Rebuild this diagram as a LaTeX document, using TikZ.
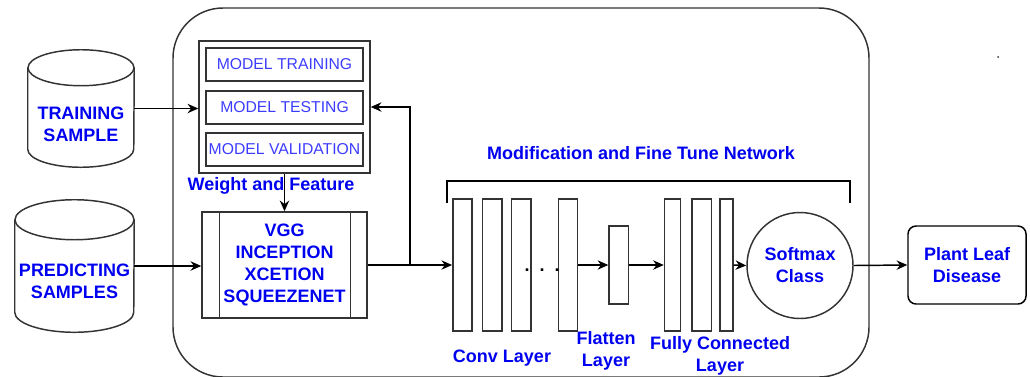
\documentclass[tikz,border=0pt]{standalone}
\usepackage{fontspec}
\setmainfont{Liberation Sans}
\usetikzlibrary{arrows.meta,positioning,calc}
\definecolor{txtblue}{HTML}{0000F0}
\definecolor{phaseblue}{HTML}{3C3CFF}
\definecolor{inkline}{HTML}{333333}

\begin{document}
\begin{tikzpicture}[
  x=0.75pt, y=-0.75pt,
  font=\fontsize{13.5}{16.5}\selectfont\bfseries,
  txt/.style    = {text=txtblue, align=center, inner sep=0pt},
  cyl/.style    = {draw=inkline, line width=1.1pt},
  phase/.style  = {draw=inkline, line width=1.1pt, minimum width=117.75pt, minimum height=24.75pt,
                   inner sep=0pt, text=phaseblue, font=\fontsize{11.8}{14}\selectfont},
  layer/.style  = {draw=inkline, line width=1.1pt, minimum width=14.5pt, minimum height=99pt, inner sep=0pt},
  flow/.style   = {-{Stealth[length=8pt, width=7pt]}, line width=1.1pt, draw=black},
]
\useasboundingbox (0,0) rectangle (1030,376);

% ---------- outer frame ---------------------------------------------------------------------
\draw[inkline, line width=1.1pt, rounded corners=37.5pt] (173,8) rectangle (869,377);
\fill[inkline] (998,57) circle (1);

% ---------- data stores ---------------------------------------------------------------------
\node[minimum width=79.5pt, minimum height=87.75pt, inner sep=0pt] (train) at (81,108.5) {};
\draw[cyl] ($(train.north west)+(0,18)$) -- ($(train.south west)+(0,-18)$)
      arc[start angle=180, end angle=360, x radius=39.75pt, y radius=13.5pt]
      -- ($(train.north east)+(0,18)$);
\draw[cyl] ($(train.north)+(0,18)$) ellipse[x radius=39.75pt, y radius=13.5pt];
\node[txt] (trainlbl) at (81,124) {TRAINING\\SAMPLE};

\node[minimum width=89.25pt, minimum height=99pt, inner sep=0pt] (predict) at (74.5,266) {};
\draw[cyl] ($(predict.north west)+(0,20)$) -- ($(predict.south west)+(0,-20)$)
      arc[start angle=180, end angle=360, x radius=44.625pt, y radius=15pt]
      -- ($(predict.north east)+(0,20)$);
\draw[cyl] ($(predict.north)+(0,20)$) ellipse[x radius=44.625pt, y radius=15pt];
\node[txt] (predictlbl) at (74.5,281) {PREDICTING\\SAMPLES};

% ---------- training block ------------------------------------------------------------------
\node[draw=inkline, line width=1.1pt, minimum width=128.25pt, minimum height=99pt] (models) at (284.5,107) {};
\node[phase] (mtrain) at (284.5,64.5)  {MODEL TRAINING};
\node[phase] (mtest)  at (284.5,107.5) {MODEL TESTING};
\node[phase] (mval)   at (284.5,149.5) {MODEL VALIDATION};
\node[txt] (wf) at (271,186) {Weight and Feature};

\node[txt, draw=inkline, line width=1.1pt, minimum width=123.75pt, minimum height=79.5pt] (cnn) at (284.5,265)
     {VGG\\INCEPTION\\XCETION\\SQUEEZENET};
\draw[inkline, line width=1.1pt] ([xshift=13.5pt]cnn.north west) -- ([xshift=13.5pt]cnn.south west);
\draw[inkline, line width=1.1pt] ([xshift=-12.75pt]cnn.north east) -- ([xshift=-12.75pt]cnn.south east);

\coordinate (split) at (410,265);

% ---------- network -------------------------------------------------------------------------
\node[layer] (c1) at (462.5,265) {};
\node[layer, right=6.75pt of c1] (c2) {};
\node[layer, right=6pt of c2]    (c3) {};
\node[layer, right=19.5pt of c3] (c4) {};
\node[inner sep=0pt] (dots) at (542,270) {.\ \ .\ \ .};
\node[layer, minimum height=58.5pt, right=22.5pt of c4] (flat) {};
\node[layer, minimum width=12pt, right=26pt of flat] (fc1) {};
\node[layer, right=7.5pt of fc1] (fc2) {};
\node[layer, minimum width=9.75pt, right=5.25pt of fc2] (fc3) {};
\node[circle, draw=inkline, line width=1.1pt, minimum size=79.5pt, txt] (soft) at (800,265.5) {Softmax\\Class};
\node[txt, draw=black, line width=1.1pt, rounded corners=6pt, minimum width=88.5pt, minimum height=58.5pt]
     (plant) at (967,265) {Plant Leaf\\Disease};

\draw[black, line width=1.8pt] (447,203) |- (850,181) -- (850,203);
\node[txt] (mft) at (641,153) {Modification and Fine Tune Network};
\node[txt] (convlbl) at (502,358) {Conv Layer};
\node[txt] (flatlbl) at (606,351) {Flatten\\Layer};
\node[txt] (fclbl)   at (720,356) {Fully Connected\\Layer};

% ---------- connectors ----------------------------------------------------------------------
\draw[flow] (train.east) -- (train.east -| models.west);
\draw[flow] (predict.east) -- (predict.east -| cnn.west);
\draw[flow] (models.south) -- (cnn.north);
\draw[flow] (cnn.east) -- (c1.west);
\draw[flow] (split) |- (models.east);
\draw[flow] (c4.east) -- (flat.west);
\draw[flow] (flat.east) -- (fc1.west);
\draw[flow] (fc3.east) -- (soft.west);
\draw[flow] (soft.east) -- (plant.west);

\end{tikzpicture}
\end{document}
